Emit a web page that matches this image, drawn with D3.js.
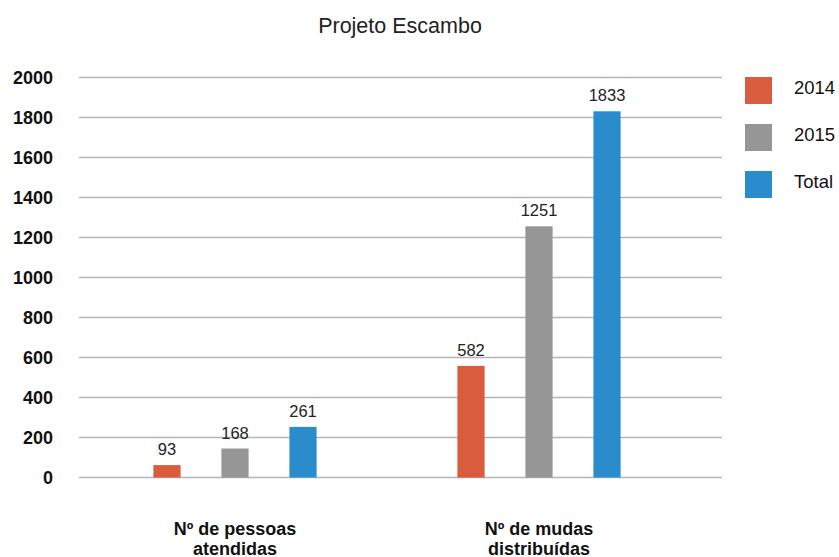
<!DOCTYPE html>
<html>
<head>
<meta charset="utf-8">
<script src="https://cdn.jsdelivr.net/npm/d3@7"></script>
<style>
  body { margin: 0; background: #fff; }
  svg { display: block; font-family: "Liberation Sans", Arial, sans-serif; }
</style>
</head>
<body>
<svg id="chart" width="839" height="557"></svg>
<script>
// Chart data
const categories = [['Nº de pessoas', 'atendidas'], ['Nº de mudas', 'distribuídas']];
const categoryKeys = ['pessoas', 'mudas'];
const series = ['2014', '2015', 'Total'];
// bar heights as drawn in the picture
const barValues = [
    [62, 145, 253],
    [558, 1256, 1831],
];
// printed value labels
const valueLabels = [
    ['93', '168', '261'],
    ['582', '1251', '1833'],
];
const yTicks = [0, 200, 400, 600, 800, 1000, 1200, 1400, 1600, 1800, 2000];
const colors = ['#da5c3e', '#959695', '#2a8bcd'];

const svg = d3.select('#chart');

const y = d3.scaleLinear().domain([0, 2000]).range([477.5, 77.5]);
const gridLeft = 79, gridRight = 722;

// group positions
const x0 = d3.scalePoint().domain(categoryKeys).range([235, 539]);
const x1 = d3.scaleBand().domain(series).range([-102, 102]).paddingInner(0.6).paddingOuter(0.3);

// Title
svg.append('text')
    .attr('x', 400).attr('y', 33)
    .attr('text-anchor', 'middle')
    .attr('font-size', '21.5px')
    .attr('fill', '#222')
    .text('Projeto Escambo');

// Gridlines
svg.append('g')
    .selectAll('line')
    .data(yTicks)
    .join('line')
    .attr('x1', gridLeft).attr('x2', gridRight)
    .attr('y1', d => y(d)).attr('y2', d => y(d))
    .attr('stroke', '#b4b4b4')
    .attr('stroke-width', 1.3);

// Y axis labels
const yAxis = svg.append('g')
    .attr('transform', 'translate(53,0)')
    .call(d3.axisLeft(y).tickValues(yTicks).tickSize(0).tickPadding(0).tickFormat(d3.format('d')));
yAxis.select('.domain').remove();
yAxis.selectAll('text')
    .attr('font-family', '"Liberation Sans", Arial, sans-serif')
    .attr('font-size', '18px')
    .attr('font-weight', 'bold')
    .attr('fill', '#111');

// Bars
const groups = svg.append('g')
    .selectAll('g')
    .data(categoryKeys)
    .join('g')
    .attr('transform', d => `translate(${x0(d)},0)`);

groups.each(function (key, gi) {
    const g = d3.select(this);
    const rows = series.map((s, si) => ({ s, si, v: barValues[gi][si], label: valueLabels[gi][si] }));
    g.selectAll('rect')
        .data(rows)
        .join('rect')
        .attr('x', d => x1(d.s))
        .attr('width', x1.bandwidth())
        .attr('y', d => y(d.v))
        .attr('height', d => y(0) - y(d.v))
        .attr('fill', d => colors[d.si]);
    g.selectAll('text.val')
        .data(rows)
        .join('text')
        .attr('class', 'val')
        .attr('x', d => x1(d.s) + x1.bandwidth() / 2)
        .attr('y', d => y(d.v) - 10)
        .attr('text-anchor', 'middle')
        .attr('font-size', '16.5px')
        .attr('fill', '#222')
        .text(d => d.label);
});

// Category labels
categoryKeys.forEach((key, i) => {
    const t = svg.append('text')
        .attr('x', x0(key)).attr('y', 535)
        .attr('text-anchor', 'middle')
        .attr('font-size', '18px')
        .attr('font-weight', 'bold')
        .attr('fill', '#111');
    categories[i].forEach((line, li) => {
        t.append('tspan')
            .attr('x', x0(key))
            .attr('dy', li === 0 ? 0 : 19.5)
            .text(line);
    });
});

// Legend
const legend = svg.append('g')
    .selectAll('g')
    .data(series)
    .join('g')
    .attr('transform', (d, i) => `translate(745,${77 + i * 47})`);
legend.append('rect')
    .attr('width', 27).attr('height', 27)
    .attr('fill', (d, i) => colors[i]);
legend.append('text')
    .attr('x', 49).attr('y', 16.5)
    .attr('font-size', '18.5px')
    .attr('fill', '#111')
    .text(d => d);
</script>
</body>
</html>
